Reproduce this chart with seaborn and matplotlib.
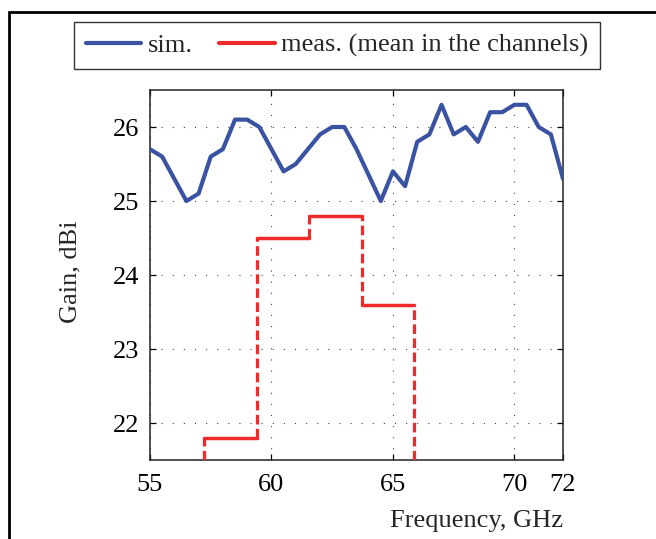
import numpy as np
import pandas as pd
import matplotlib
matplotlib.use("Agg")
import matplotlib.pyplot as plt
from matplotlib.lines import Line2D
from matplotlib.patches import Rectangle
import seaborn as sns

# ---- data ----
sim_freq = [55, 55.5, 56, 56.5, 57, 57.5, 58, 58.5, 59, 59.5, 60, 60.5, 61, 61.5,
            62, 62.5, 63, 63.5, 64, 64.5, 65, 65.5, 66, 66.5, 67, 67.5, 68, 68.5,
            69, 69.5, 70, 70.5, 71, 71.5, 72]
sim_gain = [25.7, 25.6, 25.3, 25.0, 25.1, 25.6, 25.7, 26.1, 26.1, 26.0, 25.7, 25.4,
            25.5, 25.7, 25.9, 26.0, 26.0, 25.7, 25.35, 25.0, 25.4, 25.2, 25.8, 25.9,
            26.3, 25.9, 26.0, 25.8, 26.2, 26.2, 26.3, 26.3, 26.0, 25.9, 25.3]
chan_edges = [57.24, 59.40, 61.56, 63.72, 65.88]
meas_gain = [21.8, 24.5, 24.8, 23.6]
x_ticks = [55, 60, 65, 70, 72]
y_ticks = [22, 23, 24, 25, 26]
x_lim = (55, 72)
y_lim = (21.5, 26.5)

BLUE = "#3a52a2"
RED = "#ee2a2a"
FS = 19

sns.set_style("ticks")
plt.rcParams["font.family"] = ["Liberation Serif", "DejaVu Serif"]

fig = plt.figure(figsize=(6.56, 5.39), dpi=100)
ax = fig.add_axes([150 / 656, 1 - 460 / 539, 413 / 656, 370 / 539])

sim_df = pd.DataFrame({"Frequency": sim_freq, "Gain": sim_gain})
sns.lineplot(data=sim_df, x="Frequency", y="Gain", ax=ax, color=BLUE,
             linewidth=3.0, estimator=None, sort=False, zorder=4)

# measured: horizontal (solid) segments per channel
rows = []
for i, g in enumerate(meas_gain):
    rows.append({"f": chan_edges[i], "g": g, "ch": i})
    rows.append({"f": chan_edges[i + 1], "g": g, "ch": i})
meas_df = pd.DataFrame(rows)
sns.lineplot(data=meas_df, x="f", y="g", units="ch", estimator=None, ax=ax,
             color=RED, linewidth=2.5, sort=False, zorder=3)

# dashed vertical transitions
levels = [y_lim[0]] + meas_gain + [y_lim[0]]
for i, e in enumerate(chan_edges):
    lo, hi = sorted([levels[i], levels[i + 1]])
    ax.vlines(e, lo, hi, colors=RED, linewidth=2.3,
              linestyles=[(0, (3.0, 1.4))], zorder=3)

ax.set_xlim(*x_lim)
ax.set_ylim(*y_lim)
ax.set_xticks(x_ticks)
ax.set_yticks(y_ticks)
ax.grid(True, color="#444444", linewidth=0.8, linestyle=(0, (1, 9)))
ax.tick_params(direction="in", length=4, width=0.9, top=True, right=True,
               labelsize=FS, colors="black")
ax.tick_params(axis="x", pad=10)
ax.tick_params(axis="y", pad=7.5)
for s in ax.spines.values():
    s.set_visible(True)
    s.set_color("#222222")
    s.set_linewidth(1.1)

ax.set_xlabel("Frequency, GHz", fontsize=FS, loc="right")
ax.xaxis.set_label_coords(1.0, -0.135)
ax.set_ylabel("Gain, dBi", fontsize=FS)
ax.yaxis.set_label_coords(-0.165, 0.51)

handles = [Line2D([], [], color=BLUE, linewidth=3.0),
           Line2D([], [], color=RED, linewidth=3.0)]
leg = fig.legend(handles, ["sim.", "meas. (mean in the channels)"], ncol=2,
                 loc="center", bbox_to_anchor=(337 / 656, 1 - 45.5 / 539),
                 fontsize=FS, frameon=True, fancybox=False, framealpha=1,
                 edgecolor="#333333", handlelength=2.1, handletextpad=0.25,
                 columnspacing=1.0, borderpad=0.45)
leg.get_frame().set_linewidth(1.0)

fig.patches.append(Rectangle((9 / 656, -0.1), 1.2, 1.1 - 12 / 539,
                             transform=fig.transFigure, fill=False,
                             edgecolor="black", linewidth=2.0))

fig.savefig("out.png", dpi=100)
